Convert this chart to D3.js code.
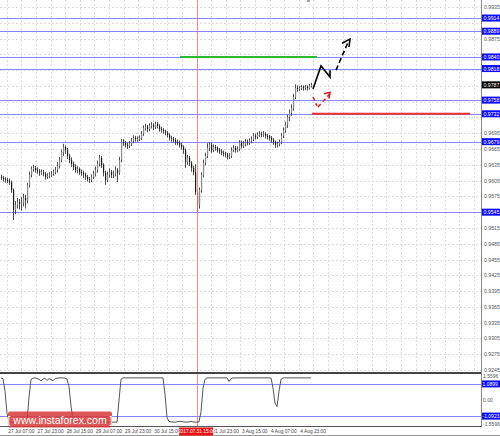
<!DOCTYPE html>
<html><head><meta charset="utf-8">
<script src="https://cdn.jsdelivr.net/npm/d3@7"></script>
<style>body{margin:0;background:#fff}svg{display:block;font-family:Arial,"Liberation Sans",sans-serif}</style>
</head><body><svg id="c" width="500" height="436"></svg>
<script>
const firstOpen = 0.9612;
const closes = [0.9610,0.9608,0.9606,0.9604,0.9602,0.9587,0.9549,0.9559,0.9564,0.9561,
0.9563,0.9572,0.9568,0.9597,0.9616,0.9627,0.9629,0.9625,0.9623,0.9620,
0.9621,0.9618,0.9612,0.9614,0.9616,0.9618,0.9621,0.9625,0.9633,0.9644,
0.9659,0.9669,0.9663,0.9652,0.9644,0.9637,0.9631,0.9625,0.9627,0.9621,
0.9620,0.9616,0.9612,0.9608,0.9606,0.9612,0.9618,0.9625,0.9637,0.9648,
0.9635,0.9620,0.9606,0.9616,0.9621,0.9616,0.9618,0.9625,0.9620,0.9644,
0.9678,0.9677,0.9673,0.9671,0.9675,0.9680,0.9686,0.9684,0.9684,0.9686,
0.9694,0.9705,0.9707,0.9703,0.9709,0.9711,0.9707,0.9713,0.9709,0.9703,
0.9701,0.9699,0.9696,0.9692,0.9686,0.9684,0.9682,0.9678,0.9677,0.9673,
0.9669,0.9663,0.9640,0.9648,0.9639,0.9629,0.9621,0.9583,0.9559,0.9587,
0.9616,0.9639,0.9652,0.9667,0.9673,0.9663,0.9669,0.9667,0.9663,0.9661,
0.9658,0.9656,0.9654,0.9650,0.9652,0.9663,0.9667,0.9663,0.9665,0.9677,
0.9671,0.9675,0.9678,0.9677,0.9680,0.9684,0.9690,0.9688,0.9692,0.9694,
0.9692,0.9694,0.9690,0.9688,0.9686,0.9682,0.9678,0.9673,0.9675,0.9678,
0.9690,0.9701,0.9711,0.9726,0.9734,0.9743,0.9764,0.9781,0.9779,0.9781,
0.9783,0.9781,0.9783,0.9781,0.9785,0.9787];
const highs = [0.9616,0.9614,0.9612,0.9610,0.9609,0.9605,0.9590,0.9566,0.9572,0.9570,
0.9574,0.9580,0.9578,0.9601,0.9622,0.9632,0.9635,0.9633,0.9630,0.9627,
0.9626,0.9625,0.9621,0.9619,0.9621,0.9623,0.9626,0.9631,0.9640,0.9650,
0.9664,0.9675,0.9672,0.9667,0.9656,0.9649,0.9641,0.9636,0.9632,0.9630,
0.9626,0.9624,0.9620,0.9616,0.9612,0.9617,0.9624,0.9632,0.9643,0.9654,
0.9652,0.9638,0.9624,0.9622,0.9628,0.9625,0.9624,0.9632,0.9629,0.9650,
0.9684,0.9684,0.9680,0.9677,0.9680,0.9686,0.9691,0.9690,0.9689,0.9691,
0.9699,0.9710,0.9713,0.9711,0.9714,0.9716,0.9714,0.9717,0.9716,0.9712,
0.9707,0.9705,0.9702,0.9699,0.9695,0.9690,0.9688,0.9686,0.9683,0.9681,
0.9677,0.9672,0.9666,0.9654,0.9652,0.9642,0.9633,0.9636,0.9588,0.9592,
0.9621,0.9645,0.9658,0.9676,0.9678,0.9677,0.9674,0.9673,0.9670,0.9667,
0.9665,0.9662,0.9660,0.9658,0.9657,0.9668,0.9672,0.9671,0.9670,0.9682,
0.9681,0.9680,0.9684,0.9683,0.9685,0.9689,0.9695,0.9694,0.9697,0.9699,
0.9698,0.9699,0.9697,0.9694,0.9692,0.9690,0.9686,0.9681,0.9679,0.9683,
0.9695,0.9706,0.9717,0.9730,0.9740,0.9750,0.9770,0.9788,0.9786,0.9785,
0.9787,0.9786,0.9787,0.9786,0.9789,0.9791];
const lows = [0.9606,0.9603,0.9601,0.9600,0.9597,0.9582,0.9530,0.9541,0.9552,0.9550,
0.9548,0.9556,0.9552,0.9562,0.9592,0.9611,0.9622,0.9620,0.9618,0.9614,
0.9616,0.9613,0.9607,0.9608,0.9610,0.9612,0.9614,0.9617,0.9620,0.9628,
0.9640,0.9652,0.9656,0.9646,0.9638,0.9631,0.9625,0.9620,0.9619,0.9616,
0.9614,0.9610,0.9606,0.9603,0.9601,0.9602,0.9608,0.9613,0.9620,0.9632,
0.9629,0.9613,0.9597,0.9602,0.9611,0.9610,0.9610,0.9613,0.9602,0.9616,
0.9640,0.9671,0.9668,0.9665,0.9667,0.9671,0.9676,0.9679,0.9679,0.9680,
0.9682,0.9690,0.9700,0.9697,0.9699,0.9704,0.9701,0.9703,0.9704,0.9698,
0.9696,0.9694,0.9691,0.9687,0.9681,0.9679,0.9677,0.9673,0.9672,0.9668,
0.9664,0.9656,0.9629,0.9635,0.9633,0.9622,0.9615,0.9578,0.9545,0.9552,
0.9582,0.9611,0.9634,0.9648,0.9661,0.9658,0.9659,0.9662,0.9658,0.9656,
0.9653,0.9651,0.9649,0.9645,0.9646,0.9648,0.9659,0.9658,0.9659,0.9661,
0.9666,0.9667,0.9670,0.9672,0.9673,0.9676,0.9680,0.9683,0.9684,0.9688,
0.9687,0.9688,0.9685,0.9683,0.9681,0.9677,0.9673,0.9667,0.9668,0.9670,
0.9674,0.9686,0.9696,0.9705,0.9718,0.9728,0.9738,0.9760,0.9774,0.9775,
0.9777,0.9776,0.9777,0.9776,0.9778,0.9782];
const osc = [1.50,1.45,0.60,-0.90,-1.45,-1.50,-1.50,-1.50,-1.50,-1.50,
-1.50,-1.50,-1.50,-1.50,0.20,1.40,1.48,1.50,1.46,1.40,
1.30,1.42,1.48,1.32,1.45,1.40,1.30,1.44,1.48,1.50,
1.50,1.50,1.48,1.42,0.90,-0.40,-1.40,-1.50,-1.50,-1.50,
-1.50,-1.50,-1.50,-1.50,-1.50,-1.50,-1.50,-1.50,-1.50,-1.50,
-1.50,-1.50,-1.50,-1.50,-1.50,-1.50,-1.50,-1.50,-1.50,0.00,
1.40,1.50,1.50,1.50,1.50,1.50,1.50,1.50,1.50,1.50,
1.50,1.50,1.50,1.50,1.50,1.50,1.50,1.50,1.50,1.50,
1.50,1.50,0.40,-1.20,-1.45,-1.48,-1.50,-1.50,-1.48,-1.45,
-1.45,-1.48,-1.50,-1.50,-1.48,-1.46,-1.48,-1.50,-1.50,-1.48,
-0.80,0.80,1.40,1.50,1.50,1.50,1.50,1.50,1.50,1.50,
1.50,1.50,1.50,1.50,1.25,1.45,1.50,1.50,1.50,1.50,
1.50,1.50,1.50,1.50,1.50,1.50,1.50,1.50,1.50,1.50,
1.50,1.50,1.50,1.50,1.50,1.50,0.80,-0.20,-0.45,0.60,
1.40,1.50,1.50,1.50,1.50,1.50,1.50,1.50,1.50,1.50,
1.50,1.50,1.50,1.50,1.50,1.50];

const priceTicks = [0.9935,0.9905,0.9875,0.9845,0.9815,0.9785,0.9755,0.9725,0.9695,0.9665,0.9635,0.9605,
  0.9575,0.9545,0.9515,0.9485,0.9455,0.9425,0.9395,0.9365,0.9335,0.9305,0.9275,0.9245];
const levels = [0.9914,0.9889,0.9840,0.9818,0.9758,0.9732,0.9679,0.9545];
const currentPrice = 0.9787;
const greenLevel = 0.9840, greenFrom = 89.5, greenTo = 158;
const redLevel = 0.9732, redFrom = 155.5, redTo = 234.5;
// time labels at every second vertical grid line (slot 6 is hidden under the cursor label)
const timeLabels = ["27 Jul 07:00","27 Jul 23:00","28 Jul 15:00","29 Jul 07:00","29 Jul 23:00","30 Jul 15:00",
  "31 Jul 23:00","3 Aug 15:00","4 Aug 07:00","4 Aug 23:00"];
const timeSlots = [0,1,2,3,4,5,7,8,9,10];
const cursorLabel = "2017.07.31 15:00";
const cursorIdx = 97.8;
const oscTicks = [1.5596, 0, -1.5596], oscTickLabels = ["1.5596","0.00","-1.5596"];
const oscLevels = [1.0899, -1.0923], oscLevelLabels = ["1.0899","-1.0923"];
// forecast arrows (bar index, price)
const blackN = [[156,0.9779],[160,0.9823],[164.5,0.9802],[164.5,0.9815]];
const blackDash = [[167.5,0.9815],[173.5,0.9868]];
const blackHead = [[170.5,0.9866],[174.5,0.9874],[174,0.9859]];
const redDash1 = [[156,0.9764],[158,0.9747]];
const redDash2 = [[158.5,0.9745],[164.5,0.9770]];
const redHead = [[161.5,0.9770],[164.5,0.9773],[164,0.9761]];

const svg = d3.select("#c");
const W = 481;
const x = d3.scaleLinear().domain([0, 155]).range([1, 311]);
const y = d3.scaleLinear().domain([0.9245, 0.9935]).range([370, 7]);
const yo = d3.scaleLinear().domain([-1.5596, 1.5596]).range([423, 377]);
const levelColor = "#8585ff";

// grid
const gridStep = 14.6;
const gx = x(cursorIdx);
const vgrid = d3.range(gx - Math.floor(gx / gridStep) * gridStep, W, gridStep);
svg.append("g").selectAll("line").data(vgrid).join("line")
  .attr("x1", d => Math.round(d) + 0.5).attr("x2", d => Math.round(d) + 0.5).attr("y1", 0).attr("y2", 372)
  .attr("stroke", "#dcdcdc").attr("stroke-dasharray", "2,2");
svg.append("g").selectAll("line").data(priceTicks).join("line")
  .attr("x1", 0).attr("x2", W).attr("y1", d => Math.round(y(d)) + 0.5).attr("y2", d => Math.round(y(d)) + 0.5)
  .attr("stroke", "#dcdcdc").attr("stroke-dasharray", "2,2");

// blue levels
svg.append("g").selectAll("line").data(levels).join("line")
  .attr("x1", 0).attr("x2", W).attr("y1", d => Math.round(y(d)) + 0.5).attr("y2", d => Math.round(y(d)) + 0.5)
  .attr("stroke", levelColor).attr("stroke-width", 1);

// candles
const cd = closes.map((c, i) => ({i, o: i ? closes[i - 1] : firstOpen, c, h: highs[i], l: lows[i]}));
const cg = svg.append("g");
cg.selectAll("line").data(cd).join("line")
  .attr("x1", d => Math.round(x(d.i)) + 0.5).attr("x2", d => Math.round(x(d.i)) + 0.5)
  .attr("y1", d => y(d.h)).attr("y2", d => y(d.l)).attr("stroke", "#3a3a3a").attr("stroke-width", 0.9);
cg.selectAll("rect").data(cd).join("rect")
  .attr("x", d => Math.round(x(d.i))).attr("width", 1.2)
  .attr("y", d => y(Math.max(d.o, d.c))).attr("height", d => Math.max(1, Math.abs(y(d.o) - y(d.c))))
  .attr("fill", d => d.c < d.o ? "#1a1a1a" : "#8a8a8a");

// cursor line
svg.append("line").attr("x1", Math.round(gx) + 0.5).attr("x2", Math.round(gx) + 0.5).attr("y1", 0).attr("y2", 427)
  .attr("stroke", "#f27a7a").attr("stroke-opacity", 0.85);

// green & red lines
svg.append("line").attr("x1", x(greenFrom)).attr("x2", x(greenTo)).attr("y1", y(greenLevel)).attr("y2", y(greenLevel))
  .attr("stroke", "#2db82d").attr("stroke-width", 2);
svg.append("line").attr("x1", x(redFrom)).attr("x2", x(redTo)).attr("y1", y(redLevel)).attr("y2", y(redLevel))
  .attr("stroke", "#ee3030").attr("stroke-width", 2);

// arrows
const pl = d3.line().x(d => x(d[0])).y(d => y(d[1]));
svg.append("path").attr("d", pl(blackN)).attr("fill", "none").attr("stroke", "#000").attr("stroke-width", 1.6);
svg.append("path").attr("d", pl(blackDash)).attr("fill", "none").attr("stroke", "#000").attr("stroke-width", 1.6).attr("stroke-dasharray", "5,3");
svg.append("path").attr("d", pl(blackHead)).attr("fill", "none").attr("stroke", "#000").attr("stroke-width", 1.6);
svg.append("path").attr("d", pl(redDash1)).attr("fill", "none").attr("stroke", "#e82020").attr("stroke-width", 1.6).attr("stroke-dasharray", "4,3");
svg.append("path").attr("d", pl(redDash2)).attr("fill", "none").attr("stroke", "#e82020").attr("stroke-width", 1.6).attr("stroke-dasharray", "4,3");
svg.append("path").attr("d", pl(redHead)).attr("fill", "none").attr("stroke", "#e82020").attr("stroke-width", 1.6);

// small marker at top
svg.append("rect").attr("x", 307).attr("y", 0).attr("width", 3).attr("height", 2).attr("fill", "#aaa");

// right axis
svg.append("rect").attr("x", W + 1).attr("y", 0).attr("width", 500 - W).attr("height", 436).attr("fill", "#fff");
svg.append("line").attr("x1", W + 0.5).attr("x2", W + 0.5).attr("y1", 0).attr("y2", 427).attr("stroke", "#888");
const markY = [...levels, currentPrice].map(v => y(v));
svg.append("g").selectAll("text").data(priceTicks.filter(t => markY.every(m => Math.abs(y(t) - m) > 5.5))).join("text")
  .attr("x", 484).attr("y", d => y(d) + 2).attr("font-size", 5.2).attr("fill", "#555").text(d => d.toFixed(4));
const lg = svg.append("g").selectAll("g").data(levels).join("g");
lg.append("rect").attr("x", 482).attr("y", d => y(d) - 3.5).attr("width", 18).attr("height", 7).attr("fill", "#0a0aff");
lg.append("text").attr("x", 483.5).attr("y", d => y(d) + 2).attr("font-size", 5.2).attr("fill", "#fff").text(d => d.toFixed(4));
svg.append("rect").attr("x", 482).attr("y", y(currentPrice) - 3.5).attr("width", 18).attr("height", 7).attr("fill", "#000");
svg.append("text").attr("x", 483.5).attr("y", y(currentPrice) + 2).attr("font-size", 5.2).attr("fill", "#fff").text(currentPrice.toFixed(4));

// panel separators
svg.append("line").attr("x1", 0).attr("x2", W).attr("y1", 373).attr("y2", 373).attr("stroke", "#444").attr("stroke-width", 2.2);
svg.append("line").attr("x1", 0).attr("x2", W).attr("y1", 426.5).attr("y2", 426.5).attr("stroke", "#555");
svg.append("line").attr("x1", 0).attr("x2", 500).attr("y1", 435.5).attr("y2", 435.5).attr("stroke", "#999");

// indicator
svg.append("g").selectAll("line").data(oscLevels).join("line")
  .attr("x1", 0).attr("x2", W).attr("y1", d => Math.round(yo(d)) + 0.5).attr("y2", d => Math.round(yo(d)) + 0.5)
  .attr("stroke", levelColor).attr("stroke-width", 1);
svg.append("path").attr("d", d3.line().x((d, i) => x(i)).y(d => yo(d))(osc))
  .attr("fill", "none").attr("stroke", "#555").attr("stroke-width", 1);
svg.append("g").selectAll("text").data(oscTicks).join("text")
  .attr("x", 483).attr("y", (d, i) => yo(d) + (i === 0 ? 1 : i === 2 ? 3 : 2)).attr("font-size", 5)
  .attr("fill", "#555").text((d, i) => oscTickLabels[i]);
const og = svg.append("g").selectAll("g").data(oscLevels).join("g");
og.append("rect").attr("x", 482).attr("y", d => yo(d) - 3.5).attr("width", 18).attr("height", 7).attr("fill", "#0a0aff");
og.append("text").attr("x", 482.5).attr("y", d => yo(d) + 2).attr("font-size", 5).attr("fill", "#fff").text((d, i) => oscLevelLabels[i]);

// time axis
svg.append("g").selectAll("text").data(timeLabels).join("text")
  .attr("x", (d, i) => vgrid[timeSlots[i] * 2] + 1.5).attr("y", 433).attr("font-size", 4.8).attr("fill", "#444").text(d => d);
svg.append("rect").attr("x", gx - 17.5).attr("y", 427.5).attr("width", 34).attr("height", 8).attr("fill", "#ee1111");
svg.append("text").attr("x", gx).attr("y", 433.3).attr("text-anchor", "middle").attr("font-size", 4.8).attr("fill", "#fff").text(cursorLabel);

// watermark
svg.append("rect").attr("x", 8).attr("y", 411.5).attr("width", 104).attr("height", 16).attr("rx", 2)
  .attr("fill", "#d83a3a").attr("fill-opacity", 0.85);
svg.append("text").attr("x", 60).attr("y", 423.5).attr("text-anchor", "middle").attr("font-size", 10.5)
  .attr("fill", "#fff").text("[  www.instaforex.com  ]");
</script></body></html>
